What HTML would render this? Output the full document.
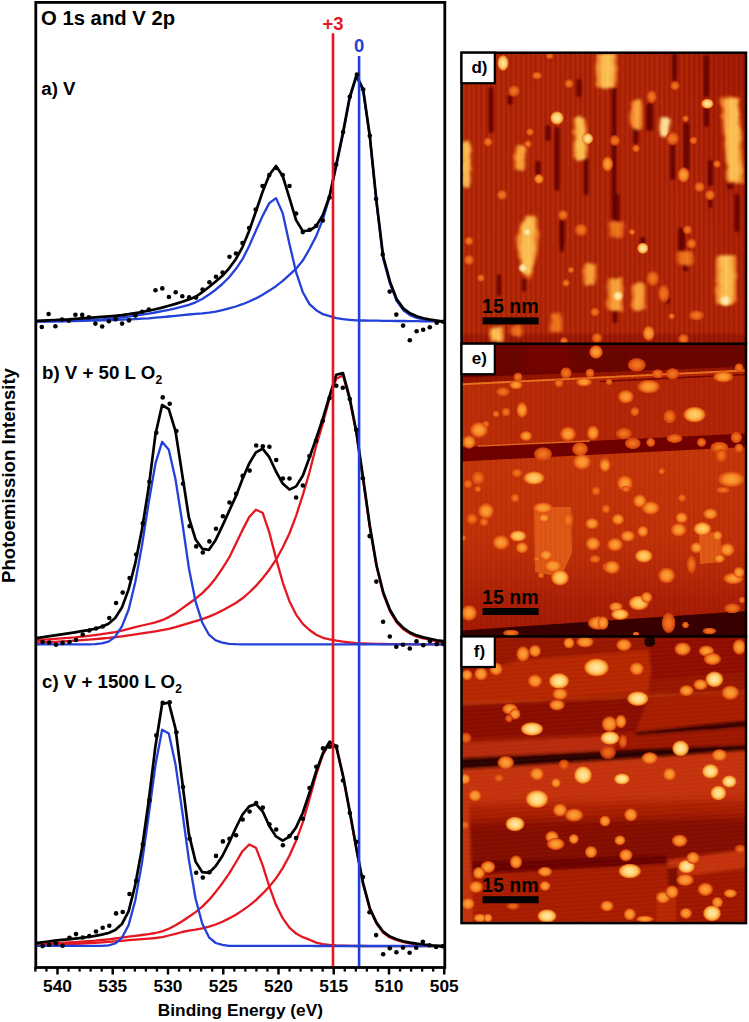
<!DOCTYPE html>
<html><head><meta charset="utf-8"><title>O 1s and V 2p XPS with STM images</title>
<style>
html,body{margin:0;padding:0;background:#fff}
body{width:749px;height:1022px;overflow:hidden;font-family:"Liberation Sans",sans-serif}
svg{display:block;position:absolute;left:0;top:0}
</style></head><body>
<svg width="749" height="1022" viewBox="0 0 749 1022">
<rect width="749" height="1022" fill="#fff"/>
<!-- XPS spectra -->
<g id="chart">
<path d="M36.0,321.5 L41.5,321.5 L48.2,321.4 L54.9,321.4 L61.6,321.3 L68.3,321.2 L75.0,321.0 L81.7,320.9 L88.4,320.7 L95.1,320.6 L101.8,320.4 L108.5,320.2 L115.2,320.0 L121.9,319.7 L128.6,319.4 L135.3,319.1 L142.0,318.7 L148.7,318.3 L155.4,317.7 L162.1,317.1 L168.8,316.5 L175.5,315.8 L182.2,315.1 L188.9,314.5 L195.6,313.9 L202.3,313.4 L209.0,312.7 L215.7,311.7 L222.4,310.2 L229.1,308.4 L235.8,306.5 L242.5,304.2 L249.2,301.5 L255.9,298.4 L262.6,294.7 L269.3,290.6 L276.0,286.2 L282.7,280.9 L289.4,274.8 L296.1,268.7 L302.8,260.6 L309.5,249.0 L316.2,236.1 L322.9,219.3 L329.6,196.7 L336.3,166.0 L343.0,134.0 L349.7,98.4 L356.4,76.7 L363.1,90.3 L369.8,137.0 L376.5,202.8 L383.2,258.6 L389.9,283.3 L396.6,300.9 L403.3,310.2 L410.0,315.1 L416.7,318.0 L423.4,319.5 L430.1,320.5 L436.8,321.1 L443.5,321.5 L444.3,321.5" fill="none" stroke="#2340d8" stroke-width="2.3" stroke-linejoin="round" stroke-linecap="butt"/>
<path d="M36.0,321.5 L41.5,321.5 L48.2,321.4 L54.9,321.3 L61.6,321.1 L68.3,320.9 L75.0,320.6 L81.7,320.3 L88.4,320.0 L95.1,319.6 L101.8,319.3 L108.5,318.7 L115.2,318.1 L121.9,317.4 L128.6,316.6 L135.3,315.7 L142.0,314.7 L148.7,313.7 L155.4,312.5 L162.1,311.2 L168.8,309.9 L175.5,308.4 L182.2,306.7 L188.9,304.8 L195.6,302.3 L202.3,299.0 L209.0,294.5 L215.7,289.7 L222.4,284.0 L229.1,277.2 L235.8,269.1 L242.5,259.2 L249.2,245.9 L255.9,230.7 L262.6,215.9 L269.3,203.1 L276.0,198.1 L282.7,213.1 L289.4,243.7 L296.1,272.2 L302.8,292.2 L309.5,304.1 L316.2,310.2 L322.9,314.2 L329.6,316.2 L336.3,318.1 L343.0,319.2 L349.7,319.8 L356.4,320.3 L363.1,320.5 L369.8,320.6 L376.5,320.7 L383.2,320.8 L389.9,320.9 L396.6,321.0 L403.3,321.0 L410.0,321.1 L416.7,321.2 L423.4,321.3 L430.1,321.4 L436.8,321.4 L443.5,321.5 L444.3,321.5" fill="none" stroke="#2340d8" stroke-width="2.3" stroke-linejoin="round" stroke-linecap="butt"/>
<path d="M36.0,640.0 L41.5,639.8 L48.2,639.4 L54.9,638.9 L61.6,638.4 L68.3,637.8 L75.0,637.3 L81.7,636.6 L88.4,635.9 L95.1,635.1 L101.8,634.2 L108.5,633.2 L115.2,632.1 L121.9,630.6 L128.6,628.9 L135.3,627.2 L142.0,625.5 L148.7,624.0 L155.4,622.4 L162.1,620.2 L168.8,617.1 L175.5,613.2 L182.2,608.4 L188.9,603.5 L195.6,598.7 L202.3,593.1 L209.0,586.4 L215.7,578.2 L222.4,568.3 L229.1,557.7 L235.8,544.1 L242.5,529.9 L249.2,517.1 L255.9,509.7 L262.6,512.7 L269.3,532.4 L276.0,558.4 L282.7,582.3 L289.4,601.2 L296.1,614.6 L302.8,623.9 L309.5,630.0 L316.2,634.8 L322.9,637.8 L329.6,639.4 L336.3,640.7 L343.0,641.7 L349.7,642.5 L356.4,643.1 L363.1,643.4 L369.8,643.7 L376.5,643.9 L383.2,644.0 L389.9,644.1 L396.6,644.2 L403.3,644.2 L410.0,644.2 L416.7,644.3 L423.4,644.3 L430.1,644.3 L436.8,644.3 L443.5,644.3 L444.3,644.3" fill="none" stroke="#e5161f" stroke-width="2.3" stroke-linejoin="round" stroke-linecap="butt"/>
<path d="M36.0,642.4 L41.5,642.3 L48.2,642.0 L54.9,641.8 L61.6,641.4 L68.3,641.1 L75.0,640.7 L81.7,640.2 L88.4,639.7 L95.1,639.1 L101.8,638.5 L108.5,637.9 L115.2,637.1 L121.9,636.3 L128.6,635.4 L135.3,634.4 L142.0,633.4 L148.7,632.4 L155.4,631.3 L162.1,630.1 L168.8,628.8 L175.5,627.2 L182.2,625.1 L188.9,623.1 L195.6,621.2 L202.3,619.1 L209.0,616.6 L215.7,613.7 L222.4,610.4 L229.1,606.8 L235.8,603.0 L242.5,598.3 L249.2,592.5 L255.9,585.9 L262.6,578.3 L269.3,569.7 L276.0,559.7 L282.7,547.5 L289.4,533.5 L296.1,515.8 L302.8,495.1 L309.5,472.2 L316.2,445.8 L322.9,423.1 L329.6,398.2 L336.3,378.7 L343.0,375.4 L349.7,399.6 L356.4,433.5 L363.1,479.5 L369.8,527.3 L376.5,566.5 L383.2,593.8 L389.9,611.2 L396.6,622.4 L403.3,629.2 L410.0,633.6 L416.7,636.6 L423.4,638.5 L430.1,640.0 L436.8,641.5 L443.5,642.4 L444.3,642.4" fill="none" stroke="#e5161f" stroke-width="2.3" stroke-linejoin="round" stroke-linecap="butt"/>
<path d="M36.0,644.3 L41.5,644.3 L48.2,644.3 L54.9,644.3 L61.6,644.3 L68.3,644.3 L75.0,644.3 L81.7,644.3 L88.4,644.3 L95.1,644.1 L101.8,643.3 L108.5,641.6 L115.2,636.7 L121.9,626.4 L128.6,609.8 L135.3,582.0 L142.0,545.4 L148.7,502.6 L155.4,463.7 L162.1,441.8 L168.8,449.7 L175.5,479.3 L182.2,522.0 L188.9,568.2 L195.6,601.7 L202.3,622.7 L209.0,634.7 L215.7,640.4 L222.4,642.7 L229.1,643.9 L235.8,644.2 L242.5,644.3 L249.2,644.3 L255.9,644.3 L262.6,644.3 L269.3,644.3 L276.0,644.3 L282.7,644.3 L289.4,644.3 L296.1,644.3 L302.8,644.3 L309.5,644.3 L316.2,644.3 L322.9,644.3 L329.6,644.3 L336.3,644.3 L343.0,644.3 L349.7,644.3 L356.4,644.3 L363.1,644.3 L369.8,644.3 L376.5,644.3 L383.2,644.3 L389.9,644.3 L396.6,644.3 L403.3,644.3 L410.0,644.3 L416.7,644.3 L423.4,644.3 L430.1,644.3 L436.8,644.3 L443.5,644.3 L444.3,644.3" fill="none" stroke="#2340d8" stroke-width="2.3" stroke-linejoin="round" stroke-linecap="butt"/>
<path d="M36.0,943.7 L41.5,943.6 L48.2,943.4 L54.9,943.2 L61.6,942.9 L68.3,942.5 L75.0,942.1 L81.7,941.7 L88.4,941.2 L95.1,940.7 L101.8,940.0 L108.5,939.3 L115.2,938.5 L121.9,937.6 L128.6,936.7 L135.3,935.8 L142.0,935.0 L148.7,934.1 L155.4,933.0 L162.1,931.4 L168.8,928.7 L175.5,925.3 L182.2,921.2 L188.9,916.8 L195.6,912.1 L202.3,906.6 L209.0,899.9 L215.7,891.9 L222.4,883.2 L229.1,873.6 L235.8,862.5 L242.5,851.2 L249.2,844.5 L255.9,847.7 L262.6,865.1 L269.3,886.5 L276.0,904.8 L282.7,918.2 L289.4,927.7 L296.1,933.6 L302.8,937.2 L309.5,939.7 L316.2,942.6 L322.9,944.1 L329.6,945.0 L336.3,945.4 L343.0,945.6 L349.7,945.9 L356.4,946.0 L363.1,946.0 L369.8,946.1 L376.5,946.1 L383.2,946.1 L389.9,946.1 L396.6,946.1 L403.3,946.2 L410.0,946.2 L416.7,946.2 L423.4,946.2 L430.1,946.2 L436.8,946.2 L443.5,946.2 L444.3,946.2" fill="none" stroke="#e5161f" stroke-width="2.3" stroke-linejoin="round" stroke-linecap="butt"/>
<path d="M36.0,944.8 L41.5,944.7 L48.2,944.6 L54.9,944.5 L61.6,944.3 L68.3,944.0 L75.0,943.8 L81.7,943.5 L88.4,943.2 L95.1,942.8 L101.8,942.4 L108.5,941.9 L115.2,941.4 L121.9,940.8 L128.6,940.2 L135.3,939.7 L142.0,939.2 L148.7,938.6 L155.4,938.0 L162.1,937.1 L168.8,935.5 L175.5,933.8 L182.2,932.0 L188.9,930.6 L195.6,929.7 L202.3,928.4 L209.0,926.7 L215.7,924.5 L222.4,921.7 L229.1,918.4 L235.8,914.7 L242.5,910.4 L249.2,905.6 L255.9,900.1 L262.6,893.7 L269.3,886.6 L276.0,878.3 L282.7,868.1 L289.4,855.7 L296.1,840.7 L302.8,822.3 L309.5,798.9 L316.2,774.7 L322.9,754.6 L329.6,743.1 L336.3,747.4 L343.0,776.5 L349.7,812.0 L356.4,849.5 L363.1,884.2 L369.8,909.2 L376.5,923.6 L383.2,932.7 L389.9,937.5 L396.6,940.1 L403.3,942.1 L410.0,943.4 L416.7,944.4 L423.4,945.0 L430.1,945.6 L436.8,946.0 L443.5,946.4 L444.3,946.4" fill="none" stroke="#e5161f" stroke-width="2.3" stroke-linejoin="round" stroke-linecap="butt"/>
<path d="M36.0,945.8 L41.5,945.8 L48.2,945.8 L54.9,945.8 L61.6,945.8 L68.3,945.8 L75.0,945.8 L81.7,945.8 L88.4,945.8 L95.1,945.8 L101.8,945.8 L108.5,945.3 L115.2,943.5 L121.9,937.8 L128.6,925.1 L135.3,900.3 L142.0,862.9 L148.7,815.3 L155.4,765.5 L162.1,729.7 L168.8,733.4 L175.5,764.3 L182.2,811.0 L188.9,859.9 L195.6,898.7 L202.3,923.8 L209.0,937.3 L215.7,943.0 L222.4,944.9 L229.1,945.8 L235.8,945.8 L242.5,945.8 L249.2,945.8 L255.9,945.9 L262.6,945.9 L269.3,945.9 L276.0,945.9 L282.7,945.9 L289.4,945.9 L296.1,945.9 L302.8,945.9 L309.5,945.9 L316.2,946.0 L322.9,946.0 L329.6,946.0 L336.3,946.0 L343.0,946.0 L349.7,946.0 L356.4,946.0 L363.1,946.0 L369.8,946.0 L376.5,946.0 L383.2,946.0 L389.9,946.0 L396.6,946.0 L403.3,946.0 L410.0,946.0 L416.7,946.0 L423.4,946.0 L430.1,946.0 L436.8,946.0 L443.5,946.0 L444.3,946.0" fill="none" stroke="#2340d8" stroke-width="2.3" stroke-linejoin="round" stroke-linecap="butt"/>
<path d="M36.0,320.8 L41.5,320.6 L48.2,320.3 L54.9,320.0 L61.6,319.6 L68.3,319.3 L75.0,318.8 L81.7,318.4 L88.4,317.9 L95.1,317.4 L101.8,316.9 L108.5,316.4 L115.2,315.8 L121.9,315.1 L128.6,314.2 L135.3,313.1 L142.0,312.0 L148.7,310.7 L155.4,309.2 L162.1,307.6 L168.8,305.8 L175.5,303.9 L182.2,301.8 L188.9,299.5 L195.6,296.8 L202.3,292.1 L209.0,287.0 L215.7,281.5 L222.4,275.8 L229.1,268.3 L235.8,259.2 L242.5,247.1 L249.2,230.8 L255.9,211.5 L262.6,191.8 L269.3,175.0 L276.0,166.0 L282.7,176.0 L289.4,197.8 L296.1,220.1 L302.8,231.1 L309.5,230.5 L316.2,226.1 L322.9,214.9 L329.6,196.0 L336.3,164.3 L343.0,132.5 L349.7,97.1 L356.4,75.5 L363.1,89.1 L369.8,135.8 L376.5,201.3 L383.2,256.7 L389.9,281.4 L396.6,299.1 L403.3,308.4 L410.0,313.3 L416.7,316.2 L423.4,318.2 L430.1,319.6 L436.8,320.6 L443.5,321.6 L444.3,321.6" fill="none" stroke="#000" stroke-width="2.7" stroke-linejoin="round" stroke-linecap="butt"/>
<path d="M36.0,638.2 L41.5,637.4 L48.2,636.3 L54.9,635.3 L61.6,634.3 L68.3,633.3 L75.0,632.3 L81.7,631.2 L88.4,630.1 L95.1,628.7 L101.8,626.8 L108.5,623.7 L115.2,617.9 L121.9,607.6 L128.6,589.4 L135.3,563.2 L142.0,529.3 L148.7,487.3 L155.4,434.8 L162.1,405.0 L168.8,409.1 L175.5,431.1 L182.2,474.4 L188.9,517.7 L195.6,539.5 L202.3,548.8 L209.0,549.8 L215.7,539.9 L222.4,525.8 L229.1,511.1 L235.8,496.4 L242.5,479.0 L249.2,463.5 L255.9,452.4 L262.6,448.7 L269.3,457.2 L276.0,471.5 L282.7,483.6 L289.4,489.6 L296.1,486.4 L302.8,475.7 L309.5,457.5 L316.2,438.5 L322.9,418.4 L329.6,395.8 L336.3,374.7 L343.0,373.1 L349.7,398.1 L356.4,432.0 L363.1,478.0 L369.8,525.7 L376.5,565.0 L383.2,592.2 L389.9,609.7 L396.6,621.0 L403.3,627.9 L410.0,632.5 L416.7,635.4 L423.4,637.4 L430.1,638.8 L436.8,640.3 L443.5,641.2 L444.3,641.2" fill="none" stroke="#000" stroke-width="2.7" stroke-linejoin="round" stroke-linecap="butt"/>
<path d="M36.0,943.1 L41.5,942.4 L48.2,941.5 L54.9,940.7 L61.6,939.9 L68.3,939.3 L75.0,938.6 L81.7,937.9 L88.4,937.0 L95.1,935.9 L101.8,934.6 L108.5,933.0 L115.2,930.0 L121.9,924.0 L128.6,911.3 L135.3,884.6 L142.0,848.2 L148.7,801.0 L155.4,746.5 L162.1,704.0 L168.8,702.7 L175.5,728.7 L182.2,781.3 L188.9,834.1 L195.6,861.6 L202.3,872.2 L209.0,872.8 L215.7,866.1 L222.4,856.0 L229.1,842.7 L235.8,828.0 L242.5,814.5 L249.2,806.4 L255.9,804.1 L262.6,811.2 L269.3,825.9 L276.0,836.4 L282.7,840.6 L289.4,836.7 L296.1,827.4 L302.8,812.8 L309.5,792.8 L316.2,771.3 L322.9,753.2 L329.6,741.7 L336.3,746.4 L343.0,775.5 L349.7,811.0 L356.4,848.5 L363.1,883.2 L369.8,908.2 L376.5,922.6 L383.2,931.7 L389.9,936.6 L396.6,939.2 L403.3,941.3 L410.0,942.6 L416.7,943.7 L423.4,944.5 L430.1,945.3 L436.8,945.8 L443.5,946.2 L444.3,946.2" fill="none" stroke="#000" stroke-width="2.7" stroke-linejoin="round" stroke-linecap="butt"/>
<line x1="333.0" y1="33.2" x2="333.0" y2="967" stroke="#e5161f" stroke-width="2.6"/>
<line x1="359.1" y1="56" x2="359.1" y2="967" stroke="#2340d8" stroke-width="2.6"/>
<circle cx="41.8" cy="327.0" r="2.3" fill="#000"/>
<circle cx="48.6" cy="314.0" r="2.3" fill="#000"/>
<circle cx="55.4" cy="326.3" r="2.3" fill="#000"/>
<circle cx="62.0" cy="319.5" r="2.3" fill="#000"/>
<circle cx="68.8" cy="320.8" r="2.3" fill="#000"/>
<circle cx="75.4" cy="314.7" r="2.3" fill="#000"/>
<circle cx="82.2" cy="314.9" r="2.3" fill="#000"/>
<circle cx="88.8" cy="317.2" r="2.3" fill="#000"/>
<circle cx="95.4" cy="323.6" r="2.3" fill="#000"/>
<circle cx="102.2" cy="326.5" r="2.3" fill="#000"/>
<circle cx="108.8" cy="321.3" r="2.3" fill="#000"/>
<circle cx="115.6" cy="319.2" r="2.3" fill="#000"/>
<circle cx="122.1" cy="323.6" r="2.3" fill="#000"/>
<circle cx="129.0" cy="320.4" r="2.3" fill="#000"/>
<circle cx="135.5" cy="315.6" r="2.3" fill="#000"/>
<circle cx="142.1" cy="311.7" r="2.3" fill="#000"/>
<circle cx="148.9" cy="309.5" r="2.3" fill="#000"/>
<circle cx="155.5" cy="290.2" r="2.3" fill="#000"/>
<circle cx="162.3" cy="288.4" r="2.3" fill="#000"/>
<circle cx="168.9" cy="297.0" r="2.3" fill="#000"/>
<circle cx="175.7" cy="292.2" r="2.3" fill="#000"/>
<circle cx="182.3" cy="296.3" r="2.3" fill="#000"/>
<circle cx="189.1" cy="297.4" r="2.3" fill="#000"/>
<circle cx="196.0" cy="297.6" r="2.3" fill="#000"/>
<circle cx="202.6" cy="289.6" r="2.3" fill="#000"/>
<circle cx="209.4" cy="282.2" r="2.3" fill="#000"/>
<circle cx="216.0" cy="276.8" r="2.3" fill="#000"/>
<circle cx="222.6" cy="272.6" r="2.3" fill="#000"/>
<circle cx="229.5" cy="256.7" r="2.3" fill="#000"/>
<circle cx="236.0" cy="253.5" r="2.3" fill="#000"/>
<circle cx="242.5" cy="243.1" r="2.3" fill="#000"/>
<circle cx="249.1" cy="228.1" r="2.3" fill="#000"/>
<circle cx="255.7" cy="209.5" r="2.3" fill="#000"/>
<circle cx="262.5" cy="186.0" r="2.3" fill="#000"/>
<circle cx="269.3" cy="175.0" r="2.3" fill="#000"/>
<circle cx="276.1" cy="168.0" r="2.3" fill="#000"/>
<circle cx="282.7" cy="175.0" r="2.3" fill="#000"/>
<circle cx="289.5" cy="186.0" r="2.3" fill="#000"/>
<circle cx="296.1" cy="213.5" r="2.3" fill="#000"/>
<circle cx="302.8" cy="232.1" r="2.3" fill="#000"/>
<circle cx="309.6" cy="229.7" r="2.3" fill="#000"/>
<circle cx="316.2" cy="225.7" r="2.3" fill="#000"/>
<circle cx="322.8" cy="220.5" r="2.3" fill="#000"/>
<circle cx="329.6" cy="197.5" r="2.3" fill="#000"/>
<circle cx="336.2" cy="164.4" r="2.3" fill="#000"/>
<circle cx="343.1" cy="132.0" r="2.3" fill="#000"/>
<circle cx="349.8" cy="96.7" r="2.3" fill="#000"/>
<circle cx="356.9" cy="74.5" r="2.3" fill="#000"/>
<circle cx="363.2" cy="89.5" r="2.3" fill="#000"/>
<circle cx="369.8" cy="135.8" r="2.3" fill="#000"/>
<circle cx="376.1" cy="199.0" r="2.3" fill="#000"/>
<circle cx="382.7" cy="254.5" r="2.3" fill="#000"/>
<circle cx="389.7" cy="291.6" r="2.3" fill="#000"/>
<circle cx="396.3" cy="314.6" r="2.3" fill="#000"/>
<circle cx="403.1" cy="325.6" r="2.3" fill="#000"/>
<circle cx="409.8" cy="340.2" r="2.3" fill="#000"/>
<circle cx="416.6" cy="331.2" r="2.3" fill="#000"/>
<circle cx="423.2" cy="329.8" r="2.3" fill="#000"/>
<circle cx="429.8" cy="327.2" r="2.3" fill="#000"/>
<circle cx="436.8" cy="322.8" r="2.3" fill="#000"/>
<circle cx="443.4" cy="321.8" r="2.3" fill="#000"/>
<circle cx="42.6" cy="642.0" r="2.3" fill="#000"/>
<circle cx="49.2" cy="642.5" r="2.3" fill="#000"/>
<circle cx="56.0" cy="644.7" r="2.3" fill="#000"/>
<circle cx="62.6" cy="642.9" r="2.3" fill="#000"/>
<circle cx="69.5" cy="642.0" r="2.3" fill="#000"/>
<circle cx="76.0" cy="640.0" r="2.3" fill="#000"/>
<circle cx="82.7" cy="634.5" r="2.3" fill="#000"/>
<circle cx="89.3" cy="630.5" r="2.3" fill="#000"/>
<circle cx="96.0" cy="628.5" r="2.3" fill="#000"/>
<circle cx="102.7" cy="626.5" r="2.3" fill="#000"/>
<circle cx="109.3" cy="618.0" r="2.3" fill="#000"/>
<circle cx="116.1" cy="603.0" r="2.3" fill="#000"/>
<circle cx="122.7" cy="592.6" r="2.3" fill="#000"/>
<circle cx="129.6" cy="578.1" r="2.3" fill="#000"/>
<circle cx="136.2" cy="554.6" r="2.3" fill="#000"/>
<circle cx="142.8" cy="523.4" r="2.3" fill="#000"/>
<circle cx="149.4" cy="481.7" r="2.3" fill="#000"/>
<circle cx="156.3" cy="432.8" r="2.3" fill="#000"/>
<circle cx="162.7" cy="397.4" r="2.3" fill="#000"/>
<circle cx="169.7" cy="403.7" r="2.3" fill="#000"/>
<circle cx="176.4" cy="431.0" r="2.3" fill="#000"/>
<circle cx="183.0" cy="483.8" r="2.3" fill="#000"/>
<circle cx="189.6" cy="526.1" r="2.3" fill="#000"/>
<circle cx="196.2" cy="546.4" r="2.3" fill="#000"/>
<circle cx="202.8" cy="552.5" r="2.3" fill="#000"/>
<circle cx="209.4" cy="541.4" r="2.3" fill="#000"/>
<circle cx="216.0" cy="528.7" r="2.3" fill="#000"/>
<circle cx="222.9" cy="516.3" r="2.3" fill="#000"/>
<circle cx="229.5" cy="502.5" r="2.3" fill="#000"/>
<circle cx="236.1" cy="493.8" r="2.3" fill="#000"/>
<circle cx="242.7" cy="475.9" r="2.3" fill="#000"/>
<circle cx="249.6" cy="470.6" r="2.3" fill="#000"/>
<circle cx="256.2" cy="445.5" r="2.3" fill="#000"/>
<circle cx="262.8" cy="446.3" r="2.3" fill="#000"/>
<circle cx="269.4" cy="446.8" r="2.3" fill="#000"/>
<circle cx="276.2" cy="460.0" r="2.3" fill="#000"/>
<circle cx="282.9" cy="478.5" r="2.3" fill="#000"/>
<circle cx="289.5" cy="478.5" r="2.3" fill="#000"/>
<circle cx="296.1" cy="497.5" r="2.3" fill="#000"/>
<circle cx="302.9" cy="485.5" r="2.3" fill="#000"/>
<circle cx="309.4" cy="456.0" r="2.3" fill="#000"/>
<circle cx="316.1" cy="440.8" r="2.3" fill="#000"/>
<circle cx="322.8" cy="420.7" r="2.3" fill="#000"/>
<circle cx="329.6" cy="398.0" r="2.3" fill="#000"/>
<circle cx="336.3" cy="385.8" r="2.3" fill="#000"/>
<circle cx="342.8" cy="387.8" r="2.3" fill="#000"/>
<circle cx="349.8" cy="399.0" r="2.3" fill="#000"/>
<circle cx="356.3" cy="429.8" r="2.3" fill="#000"/>
<circle cx="362.8" cy="478.3" r="2.3" fill="#000"/>
<circle cx="369.6" cy="536.1" r="2.3" fill="#000"/>
<circle cx="376.3" cy="581.6" r="2.3" fill="#000"/>
<circle cx="383.1" cy="621.8" r="2.3" fill="#000"/>
<circle cx="389.8" cy="636.5" r="2.3" fill="#000"/>
<circle cx="396.3" cy="646.8" r="2.3" fill="#000"/>
<circle cx="403.0" cy="644.7" r="2.3" fill="#000"/>
<circle cx="409.8" cy="648.5" r="2.3" fill="#000"/>
<circle cx="416.5" cy="641.2" r="2.3" fill="#000"/>
<circle cx="423.3" cy="645.3" r="2.3" fill="#000"/>
<circle cx="430.0" cy="641.2" r="2.3" fill="#000"/>
<circle cx="436.8" cy="644.1" r="2.3" fill="#000"/>
<circle cx="443.5" cy="644.1" r="2.3" fill="#000"/>
<circle cx="42.6" cy="946.1" r="2.3" fill="#000"/>
<circle cx="49.2" cy="944.7" r="2.3" fill="#000"/>
<circle cx="56.0" cy="943.5" r="2.3" fill="#000"/>
<circle cx="62.6" cy="945.7" r="2.3" fill="#000"/>
<circle cx="69.5" cy="937.7" r="2.3" fill="#000"/>
<circle cx="76.0" cy="934.1" r="2.3" fill="#000"/>
<circle cx="82.7" cy="937.5" r="2.3" fill="#000"/>
<circle cx="89.3" cy="936.1" r="2.3" fill="#000"/>
<circle cx="96.0" cy="931.5" r="2.3" fill="#000"/>
<circle cx="102.7" cy="927.7" r="2.3" fill="#000"/>
<circle cx="109.3" cy="925.7" r="2.3" fill="#000"/>
<circle cx="116.1" cy="913.4" r="2.3" fill="#000"/>
<circle cx="122.7" cy="912.0" r="2.3" fill="#000"/>
<circle cx="129.5" cy="894.0" r="2.3" fill="#000"/>
<circle cx="136.2" cy="880.8" r="2.3" fill="#000"/>
<circle cx="142.8" cy="844.6" r="2.3" fill="#000"/>
<circle cx="149.4" cy="800.4" r="2.3" fill="#000"/>
<circle cx="156.3" cy="735.4" r="2.3" fill="#000"/>
<circle cx="162.7" cy="702.7" r="2.3" fill="#000"/>
<circle cx="169.7" cy="702.2" r="2.3" fill="#000"/>
<circle cx="176.4" cy="732.3" r="2.3" fill="#000"/>
<circle cx="183.0" cy="787.0" r="2.3" fill="#000"/>
<circle cx="189.6" cy="838.7" r="2.3" fill="#000"/>
<circle cx="196.2" cy="872.8" r="2.3" fill="#000"/>
<circle cx="202.8" cy="877.6" r="2.3" fill="#000"/>
<circle cx="209.4" cy="872.3" r="2.3" fill="#000"/>
<circle cx="216.0" cy="855.9" r="2.3" fill="#000"/>
<circle cx="222.9" cy="841.4" r="2.3" fill="#000"/>
<circle cx="229.5" cy="838.7" r="2.3" fill="#000"/>
<circle cx="236.1" cy="835.3" r="2.3" fill="#000"/>
<circle cx="242.7" cy="819.5" r="2.3" fill="#000"/>
<circle cx="249.6" cy="811.5" r="2.3" fill="#000"/>
<circle cx="256.2" cy="803.1" r="2.3" fill="#000"/>
<circle cx="262.8" cy="807.6" r="2.3" fill="#000"/>
<circle cx="269.4" cy="824.2" r="2.3" fill="#000"/>
<circle cx="276.2" cy="829.5" r="2.3" fill="#000"/>
<circle cx="282.9" cy="845.3" r="2.3" fill="#000"/>
<circle cx="289.5" cy="836.1" r="2.3" fill="#000"/>
<circle cx="296.1" cy="838.0" r="2.3" fill="#000"/>
<circle cx="302.9" cy="818.7" r="2.3" fill="#000"/>
<circle cx="309.5" cy="788.0" r="2.3" fill="#000"/>
<circle cx="316.3" cy="766.7" r="2.3" fill="#000"/>
<circle cx="323.0" cy="748.4" r="2.3" fill="#000"/>
<circle cx="329.8" cy="746.8" r="2.3" fill="#000"/>
<circle cx="336.4" cy="746.5" r="2.3" fill="#000"/>
<circle cx="343.0" cy="780.5" r="2.3" fill="#000"/>
<circle cx="349.8" cy="813.0" r="2.3" fill="#000"/>
<circle cx="356.3" cy="841.9" r="2.3" fill="#000"/>
<circle cx="362.9" cy="877.0" r="2.3" fill="#000"/>
<circle cx="369.5" cy="912.2" r="2.3" fill="#000"/>
<circle cx="376.1" cy="935.1" r="2.3" fill="#000"/>
<circle cx="383.2" cy="954.2" r="2.3" fill="#000"/>
<circle cx="389.8" cy="948.3" r="2.3" fill="#000"/>
<circle cx="396.4" cy="952.3" r="2.3" fill="#000"/>
<circle cx="403.0" cy="947.6" r="2.3" fill="#000"/>
<circle cx="409.6" cy="952.8" r="2.3" fill="#000"/>
<circle cx="416.2" cy="947.8" r="2.3" fill="#000"/>
<circle cx="422.9" cy="941.7" r="2.3" fill="#000"/>
<circle cx="429.5" cy="945.2" r="2.3" fill="#000"/>
<circle cx="436.1" cy="947.0" r="2.3" fill="#000"/>
<circle cx="442.7" cy="946.2" r="2.3" fill="#000"/>
<rect x="35.8" y="2.4" width="409" height="965.1" fill="none" stroke="#000" stroke-width="2.8"/>
<line x1="444.25" y1="967" x2="444.25" y2="974.5" stroke="#000" stroke-width="2.5"/>
<text x="444.25" y="992.3" text-anchor="middle" style="font-family:'Liberation Sans',sans-serif;font-weight:bold;font-size:17.3px">505</text>
<line x1="433.20" y1="967" x2="433.20" y2="971.6" stroke="#000" stroke-width="2.3"/>
<line x1="422.15" y1="967" x2="422.15" y2="971.6" stroke="#000" stroke-width="2.3"/>
<line x1="411.10" y1="967" x2="411.10" y2="971.6" stroke="#000" stroke-width="2.3"/>
<line x1="400.05" y1="967" x2="400.05" y2="971.6" stroke="#000" stroke-width="2.3"/>
<line x1="389.00" y1="967" x2="389.00" y2="974.5" stroke="#000" stroke-width="2.5"/>
<text x="389.00" y="992.3" text-anchor="middle" style="font-family:'Liberation Sans',sans-serif;font-weight:bold;font-size:17.3px">510</text>
<line x1="377.95" y1="967" x2="377.95" y2="971.6" stroke="#000" stroke-width="2.3"/>
<line x1="366.90" y1="967" x2="366.90" y2="971.6" stroke="#000" stroke-width="2.3"/>
<line x1="355.85" y1="967" x2="355.85" y2="971.6" stroke="#000" stroke-width="2.3"/>
<line x1="344.80" y1="967" x2="344.80" y2="971.6" stroke="#000" stroke-width="2.3"/>
<line x1="333.75" y1="967" x2="333.75" y2="974.5" stroke="#000" stroke-width="2.5"/>
<text x="333.75" y="992.3" text-anchor="middle" style="font-family:'Liberation Sans',sans-serif;font-weight:bold;font-size:17.3px">515</text>
<line x1="322.70" y1="967" x2="322.70" y2="971.6" stroke="#000" stroke-width="2.3"/>
<line x1="311.65" y1="967" x2="311.65" y2="971.6" stroke="#000" stroke-width="2.3"/>
<line x1="300.60" y1="967" x2="300.60" y2="971.6" stroke="#000" stroke-width="2.3"/>
<line x1="289.55" y1="967" x2="289.55" y2="971.6" stroke="#000" stroke-width="2.3"/>
<line x1="278.50" y1="967" x2="278.50" y2="974.5" stroke="#000" stroke-width="2.5"/>
<text x="278.50" y="992.3" text-anchor="middle" style="font-family:'Liberation Sans',sans-serif;font-weight:bold;font-size:17.3px">520</text>
<line x1="267.45" y1="967" x2="267.45" y2="971.6" stroke="#000" stroke-width="2.3"/>
<line x1="256.40" y1="967" x2="256.40" y2="971.6" stroke="#000" stroke-width="2.3"/>
<line x1="245.35" y1="967" x2="245.35" y2="971.6" stroke="#000" stroke-width="2.3"/>
<line x1="234.30" y1="967" x2="234.30" y2="971.6" stroke="#000" stroke-width="2.3"/>
<line x1="223.25" y1="967" x2="223.25" y2="974.5" stroke="#000" stroke-width="2.5"/>
<text x="223.25" y="992.3" text-anchor="middle" style="font-family:'Liberation Sans',sans-serif;font-weight:bold;font-size:17.3px">525</text>
<line x1="212.20" y1="967" x2="212.20" y2="971.6" stroke="#000" stroke-width="2.3"/>
<line x1="201.15" y1="967" x2="201.15" y2="971.6" stroke="#000" stroke-width="2.3"/>
<line x1="190.10" y1="967" x2="190.10" y2="971.6" stroke="#000" stroke-width="2.3"/>
<line x1="179.05" y1="967" x2="179.05" y2="971.6" stroke="#000" stroke-width="2.3"/>
<line x1="168.00" y1="967" x2="168.00" y2="974.5" stroke="#000" stroke-width="2.5"/>
<text x="168.00" y="992.3" text-anchor="middle" style="font-family:'Liberation Sans',sans-serif;font-weight:bold;font-size:17.3px">530</text>
<line x1="156.95" y1="967" x2="156.95" y2="971.6" stroke="#000" stroke-width="2.3"/>
<line x1="145.90" y1="967" x2="145.90" y2="971.6" stroke="#000" stroke-width="2.3"/>
<line x1="134.85" y1="967" x2="134.85" y2="971.6" stroke="#000" stroke-width="2.3"/>
<line x1="123.80" y1="967" x2="123.80" y2="971.6" stroke="#000" stroke-width="2.3"/>
<line x1="112.75" y1="967" x2="112.75" y2="974.5" stroke="#000" stroke-width="2.5"/>
<text x="112.75" y="992.3" text-anchor="middle" style="font-family:'Liberation Sans',sans-serif;font-weight:bold;font-size:17.3px">535</text>
<line x1="101.70" y1="967" x2="101.70" y2="971.6" stroke="#000" stroke-width="2.3"/>
<line x1="90.65" y1="967" x2="90.65" y2="971.6" stroke="#000" stroke-width="2.3"/>
<line x1="79.60" y1="967" x2="79.60" y2="971.6" stroke="#000" stroke-width="2.3"/>
<line x1="68.55" y1="967" x2="68.55" y2="971.6" stroke="#000" stroke-width="2.3"/>
<line x1="57.50" y1="967" x2="57.50" y2="974.5" stroke="#000" stroke-width="2.5"/>
<text x="57.50" y="992.3" text-anchor="middle" style="font-family:'Liberation Sans',sans-serif;font-weight:bold;font-size:17.3px">540</text>
<line x1="46.45" y1="967" x2="46.45" y2="971.6" stroke="#000" stroke-width="2.3"/>
<line x1="35.40" y1="967" x2="35.40" y2="971.6" stroke="#000" stroke-width="2.3"/>
<text x="240.4" y="1016.4" text-anchor="middle" style="font-family:'Liberation Sans',sans-serif;font-weight:bold;font-size:17.3px">Binding Energy (eV)</text>
<text transform="translate(15,475.5) rotate(-90)" text-anchor="middle" style="font-family:'Liberation Sans',sans-serif;font-weight:bold;font-size:18.6px">Photoemission Intensity</text>
<text x="41" y="24.7" style="font-family:'Liberation Sans',sans-serif;font-weight:bold;font-size:20.3px">O 1s and V 2p</text>
<text x="41.3" y="94.7" style="font-family:'Liberation Sans',sans-serif;font-weight:bold;font-size:18.7px">a) V</text>
<text x="42" y="378.9" style="font-family:'Liberation Sans',sans-serif;font-weight:bold;font-size:18.7px">b) V + 50 L O<tspan dy="5" style="font-size:12px">2</tspan></text>
<text x="42" y="688.1" style="font-family:'Liberation Sans',sans-serif;font-weight:bold;font-size:18.7px">c) V + 1500 L O<tspan dy="5" style="font-size:12px">2</tspan></text>
<text x="333" y="29.6" text-anchor="middle" fill="#e5161f" style="font-family:'Liberation Sans',sans-serif;font-weight:bold;font-size:18.5px">+3</text>
<text x="359.2" y="52.4" text-anchor="middle" fill="#2340d8" style="font-family:'Liberation Sans',sans-serif;font-weight:bold;font-size:18.5px">0</text>
</g>
<!-- STM images -->
<defs><radialGradient id="gBd"><stop offset="0" stop-color="#ffeaaa"/><stop offset="0.48" stop-color="#ffd67c"/><stop offset="0.72" stop-color="#fcb046"/><stop offset="0.88" stop-color="#f17c21" stop-opacity="0.85"/><stop offset="1" stop-color="#de5211" stop-opacity="0"/></radialGradient>
<radialGradient id="gMd"><stop offset="0" stop-color="#fba43c"/><stop offset="0.48" stop-color="#f88c28"/><stop offset="0.72" stop-color="#e86619"/><stop offset="0.88" stop-color="#cf400d" stop-opacity="0.85"/><stop offset="1" stop-color="#c03009" stop-opacity="0"/></radialGradient>
<radialGradient id="gDd"><stop offset="0" stop-color="#f17c21"/><stop offset="0.48" stop-color="#e86619"/><stop offset="0.72" stop-color="#d5470e"/><stop offset="0.88" stop-color="#c03009" stop-opacity="0.85"/><stop offset="1" stop-color="#c03009" stop-opacity="0"/></radialGradient>
<radialGradient id="gBe"><stop offset="0" stop-color="#ffd271"/><stop offset="0.48" stop-color="#febc50"/><stop offset="0.72" stop-color="#f9922d"/><stop offset="0.88" stop-color="#e66016" stop-opacity="0.85"/><stop offset="1" stop-color="#db4e10" stop-opacity="0"/></radialGradient>
<radialGradient id="gMe"><stop offset="0" stop-color="#fba43c"/><stop offset="0.48" stop-color="#f88c28"/><stop offset="0.72" stop-color="#e86619"/><stop offset="0.88" stop-color="#db4e10" stop-opacity="0.85"/><stop offset="1" stop-color="#db4e10" stop-opacity="0"/></radialGradient>
<radialGradient id="gDe"><stop offset="0" stop-color="#f17c21"/><stop offset="0.48" stop-color="#e86619"/><stop offset="0.72" stop-color="#db4e10"/><stop offset="0.88" stop-color="#db4e10" stop-opacity="0.85"/><stop offset="1" stop-color="#db4e10" stop-opacity="0"/></radialGradient>
<radialGradient id="gBf"><stop offset="0" stop-color="#ffeaaa"/><stop offset="0.48" stop-color="#ffd67c"/><stop offset="0.72" stop-color="#fcb046"/><stop offset="0.88" stop-color="#f17c21" stop-opacity="0.85"/><stop offset="1" stop-color="#de5211" stop-opacity="0"/></radialGradient>
<radialGradient id="gMf"><stop offset="0" stop-color="#fba43c"/><stop offset="0.48" stop-color="#f88c28"/><stop offset="0.72" stop-color="#e86619"/><stop offset="0.88" stop-color="#cf400d" stop-opacity="0.85"/><stop offset="1" stop-color="#c6360a" stop-opacity="0"/></radialGradient>
<radialGradient id="gDf"><stop offset="0" stop-color="#ec701d"/><stop offset="0.48" stop-color="#e35a14"/><stop offset="0.72" stop-color="#cf400d"/><stop offset="0.88" stop-color="#c6360a" stop-opacity="0.85"/><stop offset="1" stop-color="#c6360a" stop-opacity="0"/></radialGradient>
<radialGradient id="gW"><stop offset="0" stop-color="#fff8cd"/><stop offset="0.5" stop-color="#ffe59f" stop-opacity="0.9"/><stop offset="1" stop-color="#ffc85a" stop-opacity="0"/></radialGradient>
<linearGradient id="isl3" x1="0" x2="1" y1="0" y2="0"><stop offset="0" stop-color="#fcb046"/><stop offset="0.35" stop-color="#ffe59f"/><stop offset="0.7" stop-color="#ffe59f"/><stop offset="1" stop-color="#fcb046"/></linearGradient>
<linearGradient id="isl2" x1="0" x2="1" y1="0" y2="0"><stop offset="0" stop-color="#ef761f"/><stop offset="0.35" stop-color="#fec255"/><stop offset="0.7" stop-color="#fec255"/><stop offset="1" stop-color="#ef761f"/></linearGradient>
<linearGradient id="isl1" x1="0" x2="1" y1="0" y2="0"><stop offset="0" stop-color="#e66016"/><stop offset="0.35" stop-color="#fba43c"/><stop offset="0.7" stop-color="#fba43c"/><stop offset="1" stop-color="#e66016"/></linearGradient>
<linearGradient id="isl0" x1="0" x2="1" y1="0" y2="0"><stop offset="0" stop-color="#d5470e"/><stop offset="0.35" stop-color="#ef761f"/><stop offset="0.7" stop-color="#ef761f"/><stop offset="1" stop-color="#d5470e"/></linearGradient>
<pattern id="vstr" width="4.95" height="8" patternUnits="userSpaceOnUse"><rect x="0" width="2.3" height="8" fill="#3a0000" fill-opacity="0.11"/><rect x="3.0" width="1.3" height="8" fill="#ff7030" fill-opacity="0.04"/></pattern>
<pattern id="vstrE" width="4.95" height="8" patternUnits="userSpaceOnUse"><rect x="0" width="2.2" height="8" fill="#3a0000" fill-opacity="0.07"/></pattern>
<pattern id="hstrF" width="40" height="4.2" patternUnits="userSpaceOnUse" patternTransform="rotate(-4)"><rect y="0" width="40" height="1.6" fill="#ff9050" fill-opacity="0.04"/></pattern>
<filter id="bl05" x="-20%" y="-20%" width="140%" height="140%"><feGaussianBlur stdDeviation="0.7"/></filter>
<filter id="bl11" x="-40%" y="-10%" width="180%" height="120%"><feGaussianBlur stdDeviation="1.1"/></filter>
<filter id="rough" x="-30%" y="-30%" width="160%" height="160%"><feTurbulence type="fractalNoise" baseFrequency="0.11" numOctaves="2" seed="7" result="n"/><feDisplacementMap in="SourceGraphic" in2="n" scale="5" xChannelSelector="R" yChannelSelector="G" result="d"/><feGaussianBlur in="d" stdDeviation="1.4"/></filter>
<filter id="bl1" x="-30%" y="-30%" width="160%" height="160%"><feGaussianBlur stdDeviation="1.6"/></filter>
<filter id="bl2" x="-30%" y="-30%" width="160%" height="160%"><feGaussianBlur stdDeviation="2.6"/></filter>
<filter id="bl4" x="-30%" y="-30%" width="160%" height="160%"><feGaussianBlur stdDeviation="4.0"/></filter>
<clipPath id="clipD"><rect x="461" y="52" width="285.5" height="292"/></clipPath>
<clipPath id="clipE"><rect x="461" y="343.7" width="285.5" height="293"/></clipPath>
<clipPath id="clipF"><rect x="461" y="636.5" width="285.5" height="287"/></clipPath>
<linearGradient id="gE1" gradientUnits="userSpaceOnUse" x1="461" x2="746" y1="0" y2="0"><stop offset="0" stop-color="#bf2f08"/><stop offset="0.55" stop-color="#b62707"/><stop offset="1" stop-color="#b42507"/></linearGradient>
<linearGradient id="gE2" gradientUnits="userSpaceOnUse" x1="0" x2="0" y1="450" y2="630"><stop offset="0" stop-color="#c8370a"/><stop offset="0.5" stop-color="#c33209"/><stop offset="0.7" stop-color="#b82907"/><stop offset="0.84" stop-color="#ad2006"/><stop offset="1" stop-color="#a81b05"/></linearGradient>
<linearGradient id="bgD" x1="0" x2="1" y1="0.3" y2="0"><stop offset="0" stop-color="#b72807"/><stop offset="0.7" stop-color="#b42507"/><stop offset="1" stop-color="#a51a05"/></linearGradient>
</defs>
<g clip-path="url(#clipD)">
<rect x="461" y="52" width="286" height="292" fill="url(#bgD)"/>
<rect x="461" y="334" width="286" height="11" fill="#760702" fill-opacity="0.35" filter="url(#bl1)"/>
<rect x="461" y="52" width="286" height="292" fill="url(#vstr)" filter="url(#bl05)"/>
<g filter="url(#bl11)">
<rect x="488.4" y="87" width="5.2" height="46.0" rx="2.3" fill="#640301" fill-opacity="0.9"/>
<rect x="576.4" y="79" width="5.2" height="18.0" rx="2.3" fill="#640301" fill-opacity="0.9"/>
<rect x="554.4" y="127" width="5.2" height="64.0" rx="2.3" fill="#640301" fill-opacity="0.9"/>
<rect x="583.4" y="157" width="5.2" height="38.0" rx="2.3" fill="#640301" fill-opacity="0.9"/>
<rect x="545.4" y="125" width="5.2" height="16.0" rx="2.3" fill="#640301" fill-opacity="0.9"/>
<rect x="535.4" y="161" width="5.2" height="14.0" rx="2.3" fill="#640301" fill-opacity="0.9"/>
<rect x="507.4" y="95" width="5.2" height="10.0" rx="2.3" fill="#640301" fill-opacity="0.9"/>
<rect x="672.0" y="53" width="5.2" height="28.0" rx="2.3" fill="#640301" fill-opacity="0.9"/>
<rect x="703.8" y="55" width="5.2" height="42.0" rx="2.3" fill="#640301" fill-opacity="0.9"/>
<rect x="703.8" y="107" width="5.2" height="20.0" rx="2.3" fill="#640301" fill-opacity="0.9"/>
<rect x="611.4" y="87" width="5.2" height="52.0" rx="2.3" fill="#640301" fill-opacity="0.9"/>
<rect x="611.4" y="144" width="5.2" height="57.0" rx="2.3" fill="#640301" fill-opacity="0.9"/>
<rect x="646.1" y="103" width="7.2" height="28.0" rx="2.3" fill="#640301" fill-opacity="0.9"/>
<rect x="633.2" y="127" width="5.2" height="17.0" rx="2.3" fill="#640301" fill-opacity="0.9"/>
<rect x="683.4" y="123" width="6.2" height="47.0" rx="2.3" fill="#640301" fill-opacity="0.9"/>
<rect x="707.8" y="160" width="5.2" height="26.0" rx="2.3" fill="#640301" fill-opacity="0.9"/>
<rect x="670.0" y="144" width="5.2" height="36.0" rx="2.3" fill="#640301" fill-opacity="0.9"/>
<rect x="726.9" y="182" width="6.2" height="7.0" rx="2.3" fill="#640301" fill-opacity="0.9"/>
<rect x="559.4" y="220" width="5.2" height="26.0" rx="2.3" fill="#640301" fill-opacity="0.9"/>
<rect x="496.9" y="274" width="4.2" height="22.0" rx="2.3" fill="#640301" fill-opacity="0.9"/>
<rect x="521.9" y="278" width="4.2" height="14.0" rx="2.3" fill="#640301" fill-opacity="0.9"/>
<rect x="614.4" y="194" width="5.2" height="28.0" rx="2.3" fill="#640301" fill-opacity="0.9"/>
<rect x="640.2" y="237" width="5.2" height="8.0" rx="2.3" fill="#640301" fill-opacity="0.9"/>
<rect x="678.0" y="228" width="7.2" height="24.0" rx="2.3" fill="#640301" fill-opacity="0.9"/>
<rect x="682.9" y="261.6" width="5.2" height="10.0" rx="2.3" fill="#640301" fill-opacity="0.9"/>
<rect x="734.4" y="194" width="5.2" height="38.0" rx="2.3" fill="#640301" fill-opacity="0.9"/>
<rect x="612.4" y="310" width="5.2" height="13.0" rx="2.3" fill="#640301" fill-opacity="0.9"/>
<rect x="606.9" y="287" width="4.2" height="12.0" rx="2.3" fill="#640301" fill-opacity="0.9"/>
<rect x="665.5" y="297" width="4.2" height="7.0" rx="2.3" fill="#640301" fill-opacity="0.9"/>
<rect x="708.3" y="198" width="4.2" height="10.0" rx="2.3" fill="#640301" fill-opacity="0.9"/>
<rect x="611.6" y="199" width="4.2" height="21.0" rx="2.3" fill="#640301" fill-opacity="0.9"/>
<rect x="559.7" y="221" width="4.2" height="31.0" rx="2.3" fill="#640301" fill-opacity="0.9"/>
</g>
<g filter="url(#rough)">
<rect x="596.2" y="53.2" width="20.6" height="34.6" rx="4" fill="url(#isl2)"/>
<rect x="573.2" y="117.2" width="13.6" height="42.6" rx="4" fill="url(#isl2)"/>
<rect x="630.2" y="100.2" width="12.6" height="28.6" rx="4" fill="url(#isl1)"/>
<rect x="514.2" y="145.2" width="11.6" height="24.6" rx="4" fill="url(#isl1)"/>
<rect x="461.2" y="141.2" width="9.6" height="46.6" rx="4" fill="url(#isl2)"/>
<rect x="659.2" y="117.2" width="10.6" height="19.6" rx="4" fill="url(#isl3)"/>
<rect x="607.2" y="278.2" width="16.6" height="33.6" rx="4" fill="url(#isl1)"/>
<rect x="631.2" y="283.2" width="14.6" height="27.6" rx="4" fill="url(#isl1)"/>
<rect x="715.7" y="255.2" width="20.6" height="49.1" rx="4" fill="url(#isl2)"/>
<rect x="583.2" y="263.2" width="13.6" height="22.6" rx="4" fill="url(#isl1)"/>
<rect x="549.2" y="313.2" width="13.6" height="18.6" rx="4" fill="url(#isl0)"/>
<rect x="608.2" y="221.2" width="15.6" height="16.6" rx="4" fill="url(#isl0)"/>
<rect x="676.2" y="251.2" width="18.6" height="13.6" rx="4" fill="url(#isl0)"/>
<rect x="489.2" y="327.2" width="14.6" height="15.6" rx="4" fill="url(#isl2)"/>
<rect x="510.2" y="325.2" width="12.6" height="11.6" rx="4" fill="url(#isl0)"/>
<polygon points="721,98 738,98 744,183 728,183" fill="url(#isl2)" stroke="#e66016" stroke-width="2" stroke-linejoin="round"/>
<polygon points="526,216 536,216 538,235 537,252 532,270 528,279 523,272 518,252 516,240 520,228" fill="url(#isl2)" stroke="#e66016" stroke-width="2" stroke-linejoin="round"/>
</g>
<g filter="url(#bl05)"><ellipse cx="503" cy="63" rx="5.9" ry="8.3" fill="url(#gBd)"/>
<ellipse cx="537" cy="75.6" rx="5.9" ry="4.4" fill="url(#gDd)"/>
<ellipse cx="549.7" cy="56" rx="4.4" ry="3.7" fill="url(#gDd)"/>
<ellipse cx="569" cy="83.6" rx="5.2" ry="5.2" fill="url(#gDd)"/>
<ellipse cx="514" cy="91" rx="6.6" ry="6.6" fill="url(#gDd)"/>
<ellipse cx="557" cy="118" rx="7.1" ry="7.1" fill="url(#gBd)"/>
<ellipse cx="587.6" cy="138.7" rx="5.9" ry="5.9" fill="url(#gBd)"/>
<ellipse cx="488" cy="142" rx="5.2" ry="5.2" fill="url(#gDd)"/>
<ellipse cx="530" cy="132" rx="4.4" ry="4.4" fill="url(#gDd)"/>
<ellipse cx="528" cy="144" rx="4.4" ry="4.4" fill="url(#gDd)"/>
<ellipse cx="539" cy="179" rx="5.3" ry="5.3" fill="url(#gMd)"/>
<ellipse cx="502" cy="195" rx="5.9" ry="5.9" fill="url(#gDd)"/>
<ellipse cx="607.5" cy="164" rx="5.9" ry="8.3" fill="url(#gMd)"/>
<ellipse cx="651.7" cy="96.7" rx="5.9" ry="7.4" fill="url(#gDd)"/>
<ellipse cx="672.6" cy="138.5" rx="7.4" ry="7.4" fill="url(#gDd)"/>
<ellipse cx="675" cy="85.8" rx="5.2" ry="5.2" fill="url(#gDd)"/>
<ellipse cx="707.4" cy="103.7" rx="6.5" ry="5.3" fill="url(#gBd)"/>
<ellipse cx="615" cy="140.5" rx="5.9" ry="5.9" fill="url(#gDd)"/>
<ellipse cx="636" cy="148.5" rx="4.4" ry="4.4" fill="url(#gDd)"/>
<ellipse cx="683.5" cy="175" rx="6.5" ry="8.3" fill="url(#gMd)"/>
<ellipse cx="699.5" cy="187" rx="5.9" ry="5.9" fill="url(#gDd)"/>
<ellipse cx="710" cy="195" rx="5.9" ry="5.9" fill="url(#gDd)"/>
<ellipse cx="717" cy="164" rx="4.4" ry="4.4" fill="url(#gDd)"/>
<ellipse cx="693.5" cy="140.5" rx="4.4" ry="4.4" fill="url(#gDd)"/>
<ellipse cx="685.5" cy="118.6" rx="3.7" ry="3.7" fill="url(#gDd)"/>
<ellipse cx="469" cy="241" rx="5.2" ry="5.2" fill="url(#gDd)"/>
<ellipse cx="469" cy="260" rx="5.9" ry="5.9" fill="url(#gDd)"/>
<ellipse cx="481" cy="278" rx="4.4" ry="4.4" fill="url(#gDd)"/>
<ellipse cx="563" cy="215" rx="5.9" ry="5.9" fill="url(#gDd)"/>
<ellipse cx="581" cy="230" rx="7.4" ry="7.4" fill="url(#gDd)"/>
<ellipse cx="571" cy="270" rx="3.7" ry="3.7" fill="url(#gDd)"/>
<ellipse cx="566" cy="283" rx="4.4" ry="4.4" fill="url(#gDd)"/>
<ellipse cx="595" cy="312" rx="5.2" ry="5.2" fill="url(#gDd)"/>
<ellipse cx="597" cy="338" rx="5.9" ry="5.9" fill="url(#gDd)"/>
<ellipse cx="564" cy="341" rx="4.4" ry="4.4" fill="url(#gDd)"/>
<ellipse cx="642.8" cy="248.3" rx="5.9" ry="5.9" fill="url(#gBd)"/>
<ellipse cx="632" cy="232" rx="3.7" ry="3.7" fill="url(#gDd)"/>
<ellipse cx="652.7" cy="278.5" rx="7.4" ry="8.8" fill="url(#gDd)"/>
<ellipse cx="663.7" cy="293.5" rx="6.6" ry="10.3" fill="url(#gDd)"/>
<ellipse cx="687.5" cy="229.8" rx="5.2" ry="5.2" fill="url(#gDd)"/>
<ellipse cx="691.5" cy="243.7" rx="5.9" ry="5.9" fill="url(#gDd)"/>
<ellipse cx="725.3" cy="300.4" rx="6.8" ry="6.8" fill="url(#gW)"/>
<ellipse cx="696.5" cy="315.4" rx="8.8" ry="5.9" fill="url(#gDd)"/>
<ellipse cx="671.6" cy="316.3" rx="3.7" ry="3.7" fill="url(#gDd)"/>
<ellipse cx="648.7" cy="333.3" rx="6.5" ry="8.3" fill="url(#gMd)"/>
<ellipse cx="683.5" cy="339" rx="5.9" ry="5.9" fill="url(#gDd)"/>
<ellipse cx="523" cy="268" rx="5.2" ry="5.2" fill="url(#gW)"/>
<ellipse cx="527" cy="232" rx="4.5" ry="4.5" fill="url(#gW)"/>
<ellipse cx="618" cy="296" rx="6.0" ry="6.0" fill="url(#gW)"/></g>
<rect x="461" y="52" width="286" height="292" fill="url(#vstr)" opacity="0.3"/>
</g>
<g clip-path="url(#clipE)">
<rect x="461" y="343.7" width="286" height="293" fill="url(#gE2)"/>
<polygon points="461.0,384 746.5,370 746.5,434 461.0,449" fill="url(#gE1)"/>
<polygon points="461.0,343 746.5,343 746.5,367.3 461.0,378" fill="#6b0501"/>
<rect x="526" y="345" width="44" height="26" fill="#800902" fill-opacity="0.6" filter="url(#bl2)"/>
<polygon points="461.0,377.5 746.5,366.8 746.5,369.4 461.0,383.2" fill="#961304" filter="url(#bl05)"/>
<line x1="461.0" y1="384.3" x2="746.5" y2="370.3" stroke="#ef761f" stroke-width="1.8" filter="url(#bl05)"/>
<line x1="600" y1="381.6" x2="746.5" y2="374.4" stroke="#760702" stroke-width="1.5" filter="url(#bl05)"/>
<polygon points="461.0,447 746.5,433.5 746.5,447 461.0,461.5" fill="#720602" filter="url(#bl05)"/>
<line x1="478" y1="446.2" x2="590" y2="441.0" stroke="#ea6b1b" stroke-width="1.3" filter="url(#bl05)"/>
<path d="M534,507 L571,507 L572,553 L561,577 L535,572 Z" fill="#e35a14" filter="url(#bl05)"/>
<path d="M699,533 L720,532 L722,562 L700,564 Z" fill="#e35a14" filter="url(#bl05)"/>
<polygon points="461.0,630.5 746.5,611 746.5,640 461.0,640" fill="#380100" filter="url(#bl05)"/>
<rect x="461" y="343.7" width="286" height="293" fill="url(#vstrE)" filter="url(#bl05)"/>
<g filter="url(#bl05)"><ellipse cx="596" cy="352" rx="7.1" ry="7.1" fill="url(#gMe)"/>
<ellipse cx="518" cy="377" rx="4.7" ry="4.7" fill="url(#gDe)"/>
<ellipse cx="566" cy="373" rx="5.9" ry="5.9" fill="url(#gDe)"/>
<ellipse cx="590" cy="373" rx="4.7" ry="4.7" fill="url(#gDe)"/>
<ellipse cx="516" cy="385" rx="7.1" ry="4.7" fill="url(#gMe)"/>
<ellipse cx="559" cy="383" rx="4.7" ry="4.7" fill="url(#gDe)"/>
<ellipse cx="584" cy="382" rx="8.3" ry="4.7" fill="url(#gMe)"/>
<ellipse cx="503" cy="391.7" rx="7.1" ry="4.7" fill="url(#gDe)"/>
<ellipse cx="522" cy="410" rx="5.9" ry="8.3" fill="url(#gMe)"/>
<ellipse cx="506" cy="412" rx="4.7" ry="4.7" fill="url(#gDe)"/>
<ellipse cx="496" cy="414" rx="3.5" ry="3.5" fill="url(#gDe)"/>
<ellipse cx="479" cy="430" rx="9.4" ry="8.3" fill="url(#gMe)"/>
<ellipse cx="486" cy="424" rx="3.5" ry="3.5" fill="url(#gDe)"/>
<ellipse cx="469" cy="442" rx="7.1" ry="7.1" fill="url(#gMe)"/>
<ellipse cx="526" cy="436" rx="6.5" ry="5.3" fill="url(#gMe)"/>
<ellipse cx="568" cy="434" rx="8.3" ry="7.7" fill="url(#gMe)"/>
<ellipse cx="593" cy="433" rx="6.5" ry="7.7" fill="url(#gMe)"/>
<ellipse cx="543" cy="454" rx="9.4" ry="7.1" fill="url(#gDe)"/>
<ellipse cx="580" cy="449" rx="8.3" ry="7.1" fill="url(#gDe)"/>
<ellipse cx="582" cy="462" rx="9.4" ry="8.3" fill="url(#gMe)"/>
<ellipse cx="605" cy="464" rx="5.9" ry="7.1" fill="url(#gDe)"/>
<ellipse cx="534" cy="478" rx="11.2" ry="7.1" fill="url(#gBe)"/>
<ellipse cx="517" cy="473" rx="5.3" ry="4.7" fill="url(#gDe)"/>
<ellipse cx="478" cy="478" rx="6.5" ry="7.1" fill="url(#gDe)"/>
<ellipse cx="468" cy="484" rx="4.7" ry="4.7" fill="url(#gDe)"/>
<ellipse cx="636.8" cy="364.9" rx="9.4" ry="7.1" fill="url(#gDe)"/>
<ellipse cx="657.7" cy="373.8" rx="5.9" ry="4.7" fill="url(#gDe)"/>
<ellipse cx="672.6" cy="373.8" rx="7.1" ry="5.9" fill="url(#gDe)"/>
<ellipse cx="723.3" cy="376.8" rx="10.6" ry="5.9" fill="url(#gMe)"/>
<ellipse cx="739" cy="367.8" rx="4.7" ry="4.7" fill="url(#gDe)"/>
<ellipse cx="648.7" cy="386.7" rx="11.8" ry="7.1" fill="url(#gMe)"/>
<ellipse cx="625.9" cy="396.7" rx="8.3" ry="7.1" fill="url(#gMe)"/>
<ellipse cx="634.8" cy="411.6" rx="4.7" ry="4.7" fill="url(#gDe)"/>
<ellipse cx="669.6" cy="416.6" rx="6.5" ry="7.1" fill="url(#gDe)"/>
<ellipse cx="694.5" cy="414.6" rx="11.8" ry="8.3" fill="url(#gBe)"/>
<ellipse cx="623.9" cy="433.5" rx="8.3" ry="5.9" fill="url(#gDe)"/>
<ellipse cx="632.8" cy="443.4" rx="8.3" ry="5.9" fill="url(#gDe)"/>
<ellipse cx="650.7" cy="442.4" rx="4.7" ry="4.7" fill="url(#gDe)"/>
<ellipse cx="674.6" cy="438.5" rx="8.3" ry="4.7" fill="url(#gDe)"/>
<ellipse cx="701.5" cy="442.4" rx="4.7" ry="4.7" fill="url(#gDe)"/>
<ellipse cx="736.3" cy="437.5" rx="5.9" ry="5.9" fill="url(#gDe)"/>
<ellipse cx="719.4" cy="447.4" rx="9.4" ry="5.9" fill="url(#gDe)"/>
<ellipse cx="721.3" cy="455.4" rx="5.9" ry="7.1" fill="url(#gDe)"/>
<ellipse cx="739" cy="448" rx="4.7" ry="4.7" fill="url(#gDe)"/>
<ellipse cx="605" cy="465.3" rx="5.9" ry="7.1" fill="url(#gMe)"/>
<ellipse cx="661.7" cy="471.3" rx="3.5" ry="3.5" fill="url(#gDe)"/>
<ellipse cx="624.9" cy="483.2" rx="8.3" ry="8.3" fill="url(#gMe)"/>
<ellipse cx="731.3" cy="479.3" rx="14.2" ry="8.3" fill="url(#gMe)"/>
<ellipse cx="609" cy="381.8" rx="3.5" ry="3.5" fill="url(#gDe)"/>
<ellipse cx="486" cy="511" rx="8.3" ry="8.3" fill="url(#gMe)"/>
<ellipse cx="472" cy="519" rx="5.9" ry="5.9" fill="url(#gDe)"/>
<ellipse cx="484" cy="522" rx="4.7" ry="4.7" fill="url(#gDe)"/>
<ellipse cx="515" cy="498" rx="4.7" ry="4.7" fill="url(#gDe)"/>
<ellipse cx="543" cy="508" rx="10.6" ry="5.9" fill="url(#gMe)"/>
<ellipse cx="544" cy="518" rx="5.9" ry="4.7" fill="url(#gMe)"/>
<ellipse cx="568" cy="520" rx="5.9" ry="9.4" fill="url(#gDe)"/>
<ellipse cx="592" cy="523.6" rx="7.1" ry="5.9" fill="url(#gMe)"/>
<ellipse cx="518" cy="536" rx="8.8" ry="5.9" fill="url(#gBe)"/>
<ellipse cx="501" cy="542.5" rx="8.8" ry="7.7" fill="url(#gMe)"/>
<ellipse cx="522" cy="547.7" rx="6.5" ry="5.9" fill="url(#gMe)"/>
<ellipse cx="593" cy="543.7" rx="7.7" ry="7.1" fill="url(#gMe)"/>
<ellipse cx="546" cy="555" rx="7.1" ry="5.9" fill="url(#gMe)"/>
<ellipse cx="537" cy="559" rx="3.5" ry="3.5" fill="url(#gDe)"/>
<ellipse cx="553" cy="566" rx="10.0" ry="7.1" fill="url(#gMe)"/>
<ellipse cx="560" cy="577.7" rx="9.4" ry="8.3" fill="url(#gBe)"/>
<ellipse cx="595" cy="559" rx="5.9" ry="4.1" fill="url(#gDe)"/>
<ellipse cx="607" cy="567" rx="4.7" ry="4.7" fill="url(#gDe)"/>
<ellipse cx="606" cy="509" rx="4.7" ry="4.7" fill="url(#gDe)"/>
<ellipse cx="469" cy="613" rx="8.3" ry="8.3" fill="url(#gMe)"/>
<ellipse cx="598" cy="623" rx="10.6" ry="7.1" fill="url(#gMe)"/>
<ellipse cx="511" cy="633" rx="8.3" ry="3.5" fill="url(#gDe)"/>
<ellipse cx="463" cy="538" rx="3.5" ry="3.5" fill="url(#gDe)"/>
<ellipse cx="541" cy="575" rx="3.5" ry="3.5" fill="url(#gDe)"/>
<ellipse cx="596" cy="491" rx="4.7" ry="4.7" fill="url(#gDe)"/>
<ellipse cx="478" cy="489" rx="3.5" ry="3.5" fill="url(#gDe)"/>
<ellipse cx="639.8" cy="501" rx="7.1" ry="7.1" fill="url(#gMe)"/>
<ellipse cx="650.7" cy="508" rx="9.4" ry="7.1" fill="url(#gMe)"/>
<ellipse cx="618" cy="519.4" rx="6.5" ry="5.9" fill="url(#gMe)"/>
<ellipse cx="681.6" cy="517.8" rx="6.5" ry="5.9" fill="url(#gMe)"/>
<ellipse cx="682" cy="498" rx="4.1" ry="4.1" fill="url(#gDe)"/>
<ellipse cx="710.4" cy="513.9" rx="7.7" ry="5.9" fill="url(#gMe)"/>
<ellipse cx="723" cy="490" rx="7.1" ry="3.5" fill="url(#gDe)"/>
<ellipse cx="626" cy="489" rx="4.7" ry="3.5" fill="url(#gDe)"/>
<ellipse cx="642.8" cy="531.4" rx="5.9" ry="5.9" fill="url(#gMe)"/>
<ellipse cx="627.8" cy="536.1" rx="7.7" ry="5.9" fill="url(#gMe)"/>
<ellipse cx="678.6" cy="529.8" rx="8.3" ry="7.1" fill="url(#gMe)"/>
<ellipse cx="702.4" cy="528.8" rx="9.4" ry="7.1" fill="url(#gBe)"/>
<ellipse cx="717.4" cy="535.7" rx="5.3" ry="5.3" fill="url(#gMe)"/>
<ellipse cx="615" cy="544.7" rx="8.3" ry="7.1" fill="url(#gMe)"/>
<ellipse cx="696.5" cy="547.7" rx="6.5" ry="5.9" fill="url(#gMe)"/>
<ellipse cx="727.3" cy="549.7" rx="7.7" ry="7.1" fill="url(#gMe)"/>
<ellipse cx="719.4" cy="558.6" rx="5.9" ry="4.7" fill="url(#gMe)"/>
<ellipse cx="643.8" cy="556" rx="9.4" ry="7.1" fill="url(#gBe)"/>
<ellipse cx="612" cy="567.2" rx="8.3" ry="7.1" fill="url(#gMe)"/>
<ellipse cx="691.5" cy="564.6" rx="4.7" ry="9.4" fill="url(#gDe)"/>
<ellipse cx="666.6" cy="575.5" rx="8.8" ry="8.3" fill="url(#gMe)"/>
<ellipse cx="733.3" cy="578.5" rx="10.6" ry="5.9" fill="url(#gMe)"/>
<ellipse cx="739" cy="572.5" rx="5.9" ry="5.9" fill="url(#gMe)"/>
<ellipse cx="638.8" cy="603" rx="10.6" ry="7.7" fill="url(#gBe)"/>
<ellipse cx="646.7" cy="597.4" rx="5.9" ry="5.9" fill="url(#gMe)"/>
<ellipse cx="616" cy="607" rx="7.1" ry="5.3" fill="url(#gMe)"/>
<ellipse cx="620" cy="614.3" rx="9.4" ry="5.9" fill="url(#gBe)"/>
<ellipse cx="732.3" cy="608.3" rx="8.3" ry="5.3" fill="url(#gDe)"/>
<ellipse cx="742" cy="600" rx="3.5" ry="3.5" fill="url(#gDe)"/>
<ellipse cx="603" cy="623" rx="5.9" ry="7.1" fill="url(#gMe)"/>
<ellipse cx="668.6" cy="623" rx="7.1" ry="10.6" fill="url(#gDe)"/>
<ellipse cx="685.5" cy="625" rx="3.5" ry="3.5" fill="url(#gDe)"/>
<ellipse cx="709.4" cy="631" rx="7.1" ry="3.5" fill="url(#gDe)"/>
<ellipse cx="636" cy="634" rx="3.5" ry="2.4" fill="url(#gDe)"/></g>
</g>
<g clip-path="url(#clipF)">
<rect x="461" y="636.5" width="286" height="287" fill="#9e1604"/>
<g filter="url(#bl1)">
<polygon points="461.0,636 746.5,636 746.5,700 461.0,706" fill="#961304"/>
<polygon points="650,636 746.5,636 746.5,690 650,694" fill="#8f1003"/>
<polygon points="520,660 648,650 651,670 648,692 461.0,704 461.0,678" fill="#b72807" fill-opacity="0.92"/>
<polygon points="650,680 746.5,672 746.5,692 650,694" fill="#961304"/>
<line x1="461.0" y1="703.5" x2="746.5" y2="692" stroke="#db4e10" stroke-width="1.1"/>
<polygon points="461.0,705 746.5,693.5 746.5,730 461.0,740" fill="#941203"/>
<polygon points="648,698 746.5,693.5 746.5,722 636,732" fill="#a81b05"/>
<polygon points="461.0,705 648,698 636,732 461.0,738" fill="#880d03"/>
<polygon points="461.0,738 746.5,728 746.5,750 461.0,762" fill="#961304"/>
<polygon points="461.0,743 614,736 680,733 680,749 614,754 461.0,761" fill="#b82907"/>
<polygon points="614,736 746.5,728 746.5,747 614,755" fill="#9d1604"/>
<polygon points="636,732 700,725 746.5,720.5 746.5,726.5 718,729.5 700,730.5 636,735.2" fill="#2f0000"/>
<polygon points="461.0,758 640,749 746.5,745 746.5,751 640,760 461.0,771" fill="#290000"/>
<polygon points="461.0,769.5 640,758.5 746.5,750.5 746.5,822 461.0,830" fill="#c33209"/>
</g>
<g filter="url(#bl4)">
<polygon points="451.0,806 756.5,800 756.5,816 451.0,822" fill="#a81b05"/>
<polygon points="451.0,822 756.5,816 756.5,866 451.0,876" fill="#820a02"/>
</g>
<g filter="url(#bl1)">
<polygon points="472,862 666,855 666,864 472,875" fill="#680401"/>
<polygon points="461.0,875 666,864 746.5,852 746.5,924 461.0,924" fill="#a71a05"/>
<polygon points="668,860 746.5,849 746.5,868 668,878" fill="#c33209"/>
<polygon points="668,878 746.5,868 746.5,924 676,924" fill="#9f1704"/>
<polygon points="657,892 676,889 676,924 657,924" fill="#b82907" fill-opacity="0.9"/>
<polygon points="667,868 678,867 678,887 669,888" fill="#6f0601" fill-opacity="0.85"/>
<polygon points="461.0,800 469,800 473,924 461.0,924" fill="#c33209"/>
</g>
<ellipse cx="649.7" cy="641.5" rx="5.5" ry="5.5" fill="#1e0300" filter="url(#bl05)"/>
<rect x="461" y="636.5" width="286" height="287" fill="url(#hstrF)"/>
<g filter="url(#bl05)"><ellipse cx="569" cy="643" rx="5.9" ry="5.9" fill="url(#gMf)"/>
<ellipse cx="585" cy="642" rx="9.4" ry="5.9" fill="url(#gMf)"/>
<ellipse cx="523" cy="654" rx="7.1" ry="8.3" fill="url(#gMf)"/>
<ellipse cx="535" cy="651" rx="6.5" ry="6.5" fill="url(#gMf)"/>
<ellipse cx="596.5" cy="667.5" rx="13.0" ry="9.4" fill="url(#gBf)"/>
<ellipse cx="496" cy="669" rx="7.1" ry="7.1" fill="url(#gMf)"/>
<ellipse cx="481" cy="674" rx="7.1" ry="7.1" fill="url(#gMf)"/>
<ellipse cx="467" cy="675" rx="5.9" ry="5.9" fill="url(#gMf)"/>
<ellipse cx="535" cy="681" rx="7.7" ry="7.1" fill="url(#gMf)"/>
<ellipse cx="559" cy="681" rx="10.6" ry="8.3" fill="url(#gBf)"/>
<ellipse cx="560" cy="694" rx="8.3" ry="6.5" fill="url(#gMf)"/>
<ellipse cx="557" cy="705" rx="8.3" ry="5.9" fill="url(#gMf)"/>
<ellipse cx="510" cy="709" rx="8.3" ry="5.9" fill="url(#gMf)"/>
<ellipse cx="515" cy="714" rx="5.9" ry="5.9" fill="url(#gMf)"/>
<ellipse cx="509" cy="718.5" rx="4.1" ry="4.1" fill="url(#gDf)"/>
<ellipse cx="532" cy="729" rx="11.8" ry="7.1" fill="url(#gBf)"/>
<ellipse cx="466" cy="738" rx="5.9" ry="5.9" fill="url(#gDf)"/>
<ellipse cx="609.5" cy="724" rx="8.3" ry="8.3" fill="url(#gMf)"/>
<ellipse cx="610" cy="738" rx="10.0" ry="7.1" fill="url(#gBf)"/>
<ellipse cx="608" cy="752.4" rx="8.3" ry="7.1" fill="url(#gDf)"/>
<ellipse cx="505.7" cy="762.6" rx="8.8" ry="7.1" fill="url(#gMf)"/>
<ellipse cx="564" cy="765" rx="5.9" ry="5.9" fill="url(#gDf)"/>
<ellipse cx="583" cy="775" rx="9.4" ry="9.4" fill="url(#gBf)"/>
<ellipse cx="537" cy="774" rx="7.7" ry="7.1" fill="url(#gMf)"/>
<ellipse cx="465" cy="779" rx="5.9" ry="5.9" fill="url(#gMf)"/>
<ellipse cx="499" cy="778" rx="5.9" ry="4.7" fill="url(#gDf)"/>
<ellipse cx="623.9" cy="645" rx="8.3" ry="6.5" fill="url(#gMf)"/>
<ellipse cx="682.6" cy="649" rx="8.8" ry="7.1" fill="url(#gMf)"/>
<ellipse cx="706.4" cy="651" rx="8.3" ry="5.9" fill="url(#gMf)"/>
<ellipse cx="712.4" cy="659" rx="9.4" ry="6.5" fill="url(#gMf)"/>
<ellipse cx="739.3" cy="647" rx="7.1" ry="8.3" fill="url(#gMf)"/>
<ellipse cx="636.8" cy="668.8" rx="7.7" ry="7.1" fill="url(#gMf)"/>
<ellipse cx="714.4" cy="679.3" rx="9.4" ry="8.3" fill="url(#gBf)"/>
<ellipse cx="700.5" cy="684.7" rx="7.7" ry="5.9" fill="url(#gMf)"/>
<ellipse cx="686.5" cy="690.7" rx="7.7" ry="5.9" fill="url(#gMf)"/>
<ellipse cx="730.3" cy="692.7" rx="9.4" ry="7.7" fill="url(#gMf)"/>
<ellipse cx="637.8" cy="698.6" rx="11.2" ry="7.7" fill="url(#gBf)"/>
<ellipse cx="620.9" cy="721.5" rx="5.9" ry="7.1" fill="url(#gMf)"/>
<ellipse cx="622.9" cy="741.4" rx="4.7" ry="7.1" fill="url(#gDf)"/>
<ellipse cx="680.6" cy="748.4" rx="8.8" ry="8.3" fill="url(#gBf)"/>
<ellipse cx="719.4" cy="755.3" rx="8.3" ry="6.5" fill="url(#gMf)"/>
<ellipse cx="649.7" cy="758.3" rx="8.8" ry="6.5" fill="url(#gMf)"/>
<ellipse cx="710.4" cy="771.3" rx="8.8" ry="7.7" fill="url(#gBf)"/>
<ellipse cx="669.6" cy="774.2" rx="7.1" ry="7.1" fill="url(#gMf)"/>
<ellipse cx="621.9" cy="779" rx="8.3" ry="5.9" fill="url(#gBf)"/>
<ellipse cx="729.3" cy="781.5" rx="7.7" ry="6.5" fill="url(#gBf)"/>
<ellipse cx="556" cy="783" rx="5.3" ry="5.3" fill="url(#gMf)"/>
<ellipse cx="475" cy="795.6" rx="7.1" ry="6.5" fill="url(#gMf)"/>
<ellipse cx="537" cy="799" rx="11.8" ry="9.4" fill="url(#gBf)"/>
<ellipse cx="560" cy="810" rx="7.7" ry="7.1" fill="url(#gMf)"/>
<ellipse cx="574" cy="815" rx="10.0" ry="7.1" fill="url(#gMf)"/>
<ellipse cx="605" cy="821" rx="5.9" ry="5.9" fill="url(#gMf)"/>
<ellipse cx="515" cy="824" rx="10.0" ry="7.7" fill="url(#gBf)"/>
<ellipse cx="465" cy="825" rx="4.7" ry="4.7" fill="url(#gDf)"/>
<ellipse cx="552" cy="837" rx="7.1" ry="6.5" fill="url(#gMf)"/>
<ellipse cx="555.7" cy="844" rx="9.4" ry="6.5" fill="url(#gMf)"/>
<ellipse cx="573.8" cy="839" rx="5.3" ry="5.3" fill="url(#gMf)"/>
<ellipse cx="591" cy="852" rx="6.5" ry="6.5" fill="url(#gMf)"/>
<ellipse cx="516" cy="862" rx="6.5" ry="7.1" fill="url(#gMf)"/>
<ellipse cx="488" cy="867" rx="7.7" ry="6.5" fill="url(#gMf)"/>
<ellipse cx="479" cy="873" rx="6.5" ry="6.5" fill="url(#gMf)"/>
<ellipse cx="545" cy="871.7" rx="7.7" ry="5.3" fill="url(#gMf)"/>
<ellipse cx="476" cy="887" rx="7.7" ry="6.5" fill="url(#gMf)"/>
<ellipse cx="545" cy="886" rx="5.9" ry="5.3" fill="url(#gMf)"/>
<ellipse cx="468" cy="903.8" rx="7.1" ry="6.5" fill="url(#gMf)"/>
<ellipse cx="513" cy="906" rx="7.1" ry="4.1" fill="url(#gDf)"/>
<ellipse cx="607" cy="906" rx="7.1" ry="5.9" fill="url(#gMf)"/>
<ellipse cx="547" cy="916" rx="10.0" ry="7.1" fill="url(#gBf)"/>
<ellipse cx="480" cy="918" rx="7.1" ry="4.7" fill="url(#gMf)"/>
<ellipse cx="488" cy="918" rx="4.7" ry="4.7" fill="url(#gMf)"/>
<ellipse cx="718.4" cy="793" rx="8.3" ry="7.7" fill="url(#gBf)"/>
<ellipse cx="630.8" cy="814.8" rx="7.1" ry="7.1" fill="url(#gMf)"/>
<ellipse cx="619.9" cy="840.3" rx="5.9" ry="5.3" fill="url(#gMf)"/>
<ellipse cx="679.6" cy="840.7" rx="8.3" ry="6.5" fill="url(#gMf)"/>
<ellipse cx="625.9" cy="855.2" rx="7.1" ry="6.5" fill="url(#gMf)"/>
<ellipse cx="740.2" cy="849" rx="5.9" ry="4.7" fill="url(#gDf)"/>
<ellipse cx="686.5" cy="866.5" rx="8.8" ry="7.1" fill="url(#gBf)"/>
<ellipse cx="693" cy="858" rx="7.1" ry="6.5" fill="url(#gMf)"/>
<ellipse cx="629.8" cy="871.1" rx="11.8" ry="7.7" fill="url(#gBf)"/>
<ellipse cx="685.1" cy="879.9" rx="9.4" ry="6.5" fill="url(#gMf)"/>
<ellipse cx="705.4" cy="889.4" rx="8.3" ry="7.1" fill="url(#gMf)"/>
<ellipse cx="730.3" cy="893.4" rx="7.1" ry="4.7" fill="url(#gMf)"/>
<ellipse cx="663" cy="897.5" rx="7.7" ry="6.5" fill="url(#gMf)"/>
<ellipse cx="672" cy="892" rx="7.1" ry="7.1" fill="url(#gMf)"/>
<ellipse cx="717.4" cy="902.3" rx="5.9" ry="5.9" fill="url(#gMf)"/>
<ellipse cx="629.8" cy="914.3" rx="6.5" ry="6.5" fill="url(#gMf)"/>
<ellipse cx="685.9" cy="913.3" rx="6.5" ry="5.9" fill="url(#gMf)"/>
<ellipse cx="712" cy="913.3" rx="9.4" ry="8.3" fill="url(#gBf)"/>
<ellipse cx="644.8" cy="919" rx="9.4" ry="3.5" fill="url(#gMf)"/></g>
</g>
<rect x="461.5" y="52.7" width="284.5" height="870.4" fill="none" stroke="#000" stroke-width="2.5"/>
<line x1="460.3" y1="343.7" x2="747.2" y2="343.7" stroke="#000" stroke-width="2.5"/>
<line x1="460.3" y1="636.5" x2="747.2" y2="636.5" stroke="#000" stroke-width="2.5"/>
<rect x="461.5" y="52.7" width="33.3" height="30.5" fill="#fff" stroke="#000" stroke-width="2.2"/><text x="479.4" y="73.1" text-anchor="middle" style="font-family:'Liberation Sans',sans-serif;font-weight:bold;font-size:17px">d)</text>
<rect x="461.5" y="343.7" width="33.3" height="30.5" fill="#fff" stroke="#000" stroke-width="2.2"/><text x="479.4" y="364.1" text-anchor="middle" style="font-family:'Liberation Sans',sans-serif;font-weight:bold;font-size:17px">e)</text>
<rect x="461.5" y="636.5" width="33.3" height="30.5" fill="#fff" stroke="#000" stroke-width="2.2"/><text x="479.4" y="656.9" text-anchor="middle" style="font-family:'Liberation Sans',sans-serif;font-weight:bold;font-size:17px">f)</text>
<rect x="482.6" y="317.4" width="56" height="7" fill="#000"/><text x="510.4" y="313.2" text-anchor="middle" style="font-family:'Liberation Sans',sans-serif;font-weight:bold;font-size:19.6px">15 nm</text>
<rect x="482.6" y="608" width="56" height="7" fill="#000"/><text x="510.4" y="603.8" text-anchor="middle" style="font-family:'Liberation Sans',sans-serif;font-weight:bold;font-size:19.6px">15 nm</text>
<rect x="482.6" y="896.2" width="56" height="7" fill="#000"/><text x="510.4" y="891.8" text-anchor="middle" style="font-family:'Liberation Sans',sans-serif;font-weight:bold;font-size:19.6px">15 nm</text>
</svg>
</body></html>
